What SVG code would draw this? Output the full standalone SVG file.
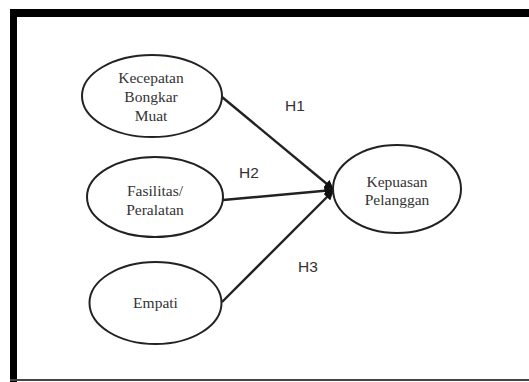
<svg xmlns="http://www.w3.org/2000/svg" width="529" height="382" viewBox="0 0 529 382">
<defs>
<style>
.node ellipse{fill:#fff;stroke:#222;stroke-width:2}
.node text{font-family:"Liberation Serif","Times New Roman",serif;font-size:15.5px;fill:#333;text-anchor:middle}
.lbl{font-family:"Liberation Sans",Arial,sans-serif;font-size:15.5px;fill:#333}
.conn line{stroke:#222;stroke-width:2.4}
</style>
<marker id="arr" viewBox="0 0 10 10" refX="9" refY="5" markerWidth="4" markerHeight="4" orient="auto" markerUnits="strokeWidth">
<path d="M0,0 L10,5 L0,10 z" fill="#111"/>
</marker>
</defs>
<rect x="0" y="0" width="529" height="382" fill="#fff"/>
<rect x="10" y="9" width="519" height="8" fill="#000"/>
<rect x="10" y="9" width="7" height="373" fill="#000"/>
<rect x="10" y="379" width="519" height="2" fill="#444"/>
<g class="conn">
<line x1="222" y1="97" x2="333" y2="189" marker-end="url(#arr)"/>
<line x1="223" y1="200" x2="333" y2="190" marker-end="url(#arr)"/>
<line x1="222" y1="302" x2="333" y2="191" marker-end="url(#arr)"/>
</g>
<g id="n1" class="node">
<ellipse cx="152" cy="96" rx="70" ry="41"/>
<text x="151" y="83">Kecepatan</text>
<text x="151" y="102">Bongkar</text>
<text x="151" y="121">Muat</text>
</g>
<g id="n2" class="node">
<ellipse cx="155" cy="197" rx="68" ry="40"/>
<text x="155" y="196">Fasilitas/</text>
<text x="155" y="215">Peralatan</text>
</g>
<g id="n3" class="node">
<ellipse cx="155.5" cy="303" rx="66" ry="41"/>
<text x="155.5" y="308">Empati</text>
</g>
<g id="n4" class="node">
<ellipse cx="397" cy="189" rx="64" ry="44"/>
<text x="397" y="187">Kepuasan</text>
<text x="397" y="205">Pelanggan</text>
</g>
<text class="lbl" x="285" y="111">H1</text>
<text class="lbl" x="239" y="178">H2</text>
<text class="lbl" x="298" y="272">H3</text>
</svg>
